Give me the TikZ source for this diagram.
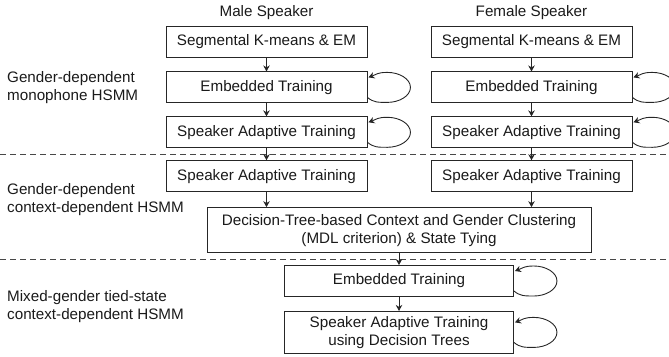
\documentclass[tikz,border=0pt]{standalone}
\usepackage{fontspec}
\setmainfont{Liberation Sans}
\usetikzlibrary{arrows.meta,positioning,calc}
\definecolor{hsline}{HTML}{262626}
\definecolor{hstext}{HTML}{1A1A1A}
\newcommand{\hsfont}{\fontsize{15.2}{18}\selectfont}
\tikzset{
  box/.style={draw=hsline,line width=0.9pt,fill=white,align=center,inner sep=2pt,font=\hsfont,text=hstext,minimum height=31pt,minimum width=201pt},
  midbox/.style={box,minimum width=229pt},
  widebox/.style={box,minimum width=384pt,minimum height=45pt},
  hdr/.style={font=\hsfont,text=hstext,inner sep=0pt},
  side/.style={hdr,align=left,anchor=west},
  ar/.style={-{Stealth[length=6pt,width=6.5pt]},draw=hsline,line width=0.9pt},
  sep/.style={draw=hsline!85,line width=0.9pt,dash pattern=on 6pt off 4pt},
}

\begin{document}
\begin{tikzpicture}[x=1pt,y=-1pt]
    \useasboundingbox (0,0) rectangle (669,356);
    \coordinate (west) at (0,0);\coordinate (east) at (669,0);
    \node[box] (mseg) at (266.5,41.5) {Segmental K-means \& EM};
    \node[box,below=14pt of mseg] (memb) {Embedded Training};
    \node[box,below=13pt of memb] (msat) {Speaker Adaptive Training};
    \node[box,below=12pt of msat] (msat2) {Speaker Adaptive Training};
    \node[box] (fseg) at (531.5,41.5) {Segmental K-means \& EM};
    \node[box,below=14pt of fseg] (femb) {Embedded Training};
    \node[box,below=13pt of femb] (fsat) {Speaker Adaptive Training};
    \node[box,below=12pt of fsat] (fsat2) {Speaker Adaptive Training};
    \node[hdr] (mlab) at ([yshift=13pt]mseg.north) {Male Speaker};
    \node[hdr] (flab) at ([yshift=13pt]fseg.north) {Female Speaker};
    \coordinate (mid) at ($(msat2.south)!0.5!(fsat2.south)$);
    \node[widebox,below=15pt of mid] (dtree) {Decision-Tree-based Context and Gender Clustering\\(MDL criterion) \& State Tying};
    \node[midbox,below=12pt of dtree] (xemb) {Embedded Training};
    \node[midbox,below=14pt of xemb,minimum height=42pt] (xsat) {Speaker Adaptive Training\\using Decision Trees};
    \coordinate (gap) at ($(msat2.south)!0.5!(dtree.north)$);
    \node[side] (lmono) at ($(west |- memb)+(7,0)$) {Gender-dependent\\monophone HSMM};
    \node[side] (lctx) at ($(west |- gap)+(7,0)$) {Gender-dependent\\context-dependent HSMM};
    \node[side] (lmix) at ($(west |- {$(xemb)!0.5!(xsat)$})+(7,0)$) {Mixed-gender tied-state\\context-dependent HSMM};
    \coordinate (cut1) at ($(msat.south)!0.5!(msat2.north)$);
    \coordinate (cut2) at ($(dtree.south)!0.5!(xemb.north)$);
    \draw[sep](west |- cut1)--(east |- cut1);\draw[sep](west |- cut2)--(east |- cut2);
    \draw[ar](mseg)--(memb);\draw[ar](memb)--(msat);\draw[ar](msat)--(msat2);
    \draw[ar](fseg)--(femb);\draw[ar](femb)--(fsat);\draw[ar](fsat)--(fsat2);
    \draw[ar](msat2)--(msat2 |- dtree.north);\draw[ar](fsat2)--(fsat2 |- dtree.north);
    \draw[ar](dtree)--(xemb);\draw[ar](xemb)--(xsat);
    \foreach \n in {memb,msat,femb,fsat,xemb,xsat}
      \draw[ar]([yshift=-10pt]\n.east) .. controls +(6,5) and +(-10,0) .. ++(20,5)
        .. controls +(12,0) and +(0,8.5) .. ++(23,-15)
        .. controls +(0,-8.5) and +(12,0) .. ++(-23,-15)
        .. controls +(-10,0) and +(8,-3) .. ++(-19,5);
  \end{tikzpicture}
\end{document}
